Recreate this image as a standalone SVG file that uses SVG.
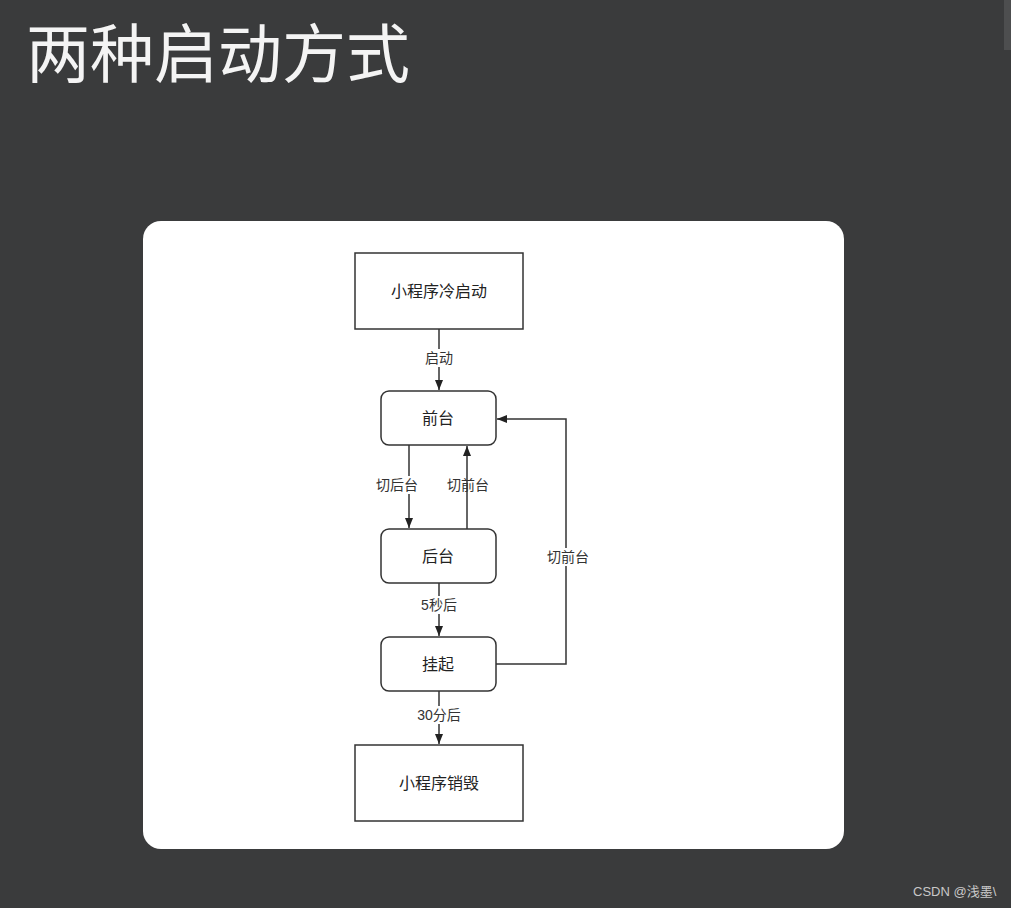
<svg xmlns="http://www.w3.org/2000/svg" width="1011" height="908" viewBox="0 0 1011 908">
<defs>
<style>
.node{fill:#ffffff;stroke:#333333;stroke-width:1.5}
.lbl{font-family:"Liberation Sans","Noto Sans CJK SC",sans-serif;font-size:16px;fill:#222222;text-anchor:middle}
.elbl{font-family:"Liberation Sans","Noto Sans CJK SC",sans-serif;font-size:14px;fill:#333333;text-anchor:middle}
.edge{fill:none;stroke:#333333;stroke-width:1.5}
.bg{fill:#ffffff}
</style>
<marker id="arr" viewBox="0 0 10 10" refX="10" refY="5" markerWidth="10" markerHeight="10" markerUnits="userSpaceOnUse" orient="auto">
<path d="M0,1 L10,5 L0,9 Z" fill="#222222"/>
</marker>
</defs>
<rect x="0" y="0" width="1011" height="908" fill="#3a3b3c"/>
<rect x="1004" y="0" width="7" height="50" fill="#5a5b5c" opacity="0.6"/>
<text x="26" y="77" font-family="'Noto Sans CJK SC',sans-serif" font-size="64" fill="#f4f4f4">两种启动方式</text>
<rect x="143" y="221" width="701" height="628" rx="18" fill="#ffffff"/>
<g id="connectors">
<line class="edge" x1="439" y1="329" x2="439" y2="390" marker-end="url(#arr)"/>
<rect class="bg" x="419" y="349" width="40" height="18"/>
<text class="elbl" x="439" y="363">启动</text>
<line class="edge" x1="409" y1="445" x2="409" y2="528" marker-end="url(#arr)"/>
<rect class="bg" x="370" y="476" width="78" height="18"/>
<text class="elbl" x="397" y="490">切后台</text>
<line class="edge" x1="467" y1="529" x2="467" y2="446" marker-end="url(#arr)"/>
<text class="elbl" x="468" y="490">切前台</text>
<line class="edge" x1="439" y1="583" x2="439" y2="636" marker-end="url(#arr)"/>
<rect class="bg" x="414" y="596" width="50" height="18"/>
<text class="elbl" x="439" y="610">5秒后</text>
<polyline class="edge" points="496,664 566,664 566,419 497,419" marker-end="url(#arr)"/>
<rect class="bg" x="542" y="548" width="52" height="18"/>
<text class="elbl" x="568" y="562">切前台</text>
<line class="edge" x1="439" y1="691" x2="439" y2="744" marker-end="url(#arr)"/>
<rect class="bg" x="410" y="706" width="58" height="18"/>
<text class="elbl" x="439" y="720">30分后</text>
</g>
<g id="cold-start">
<rect class="node" x="355" y="253" width="168" height="76"/>
<text class="lbl" x="439" y="297">小程序冷启动</text>
</g>
<g id="foreground">
<rect class="node" x="381" y="391" width="115" height="54" rx="8"/>
<text class="lbl" x="438" y="424">前台</text>
</g>
<g id="background">
<rect class="node" x="381" y="529" width="115" height="54" rx="8"/>
<text class="lbl" x="438" y="562">后台</text>
</g>
<g id="suspended">
<rect class="node" x="381" y="637" width="115" height="54" rx="8"/>
<text class="lbl" x="438" y="670">挂起</text>
</g>
<g id="destroy">
<rect class="node" x="355" y="745" width="168" height="76"/>
<text class="lbl" x="439" y="789">小程序销毁</text>
</g>
<text x="913" y="896" font-family="'Liberation Sans','Noto Sans CJK SC',sans-serif" font-size="13" fill="#c8c8c8">CSDN @浅墨\</text>
</svg>
